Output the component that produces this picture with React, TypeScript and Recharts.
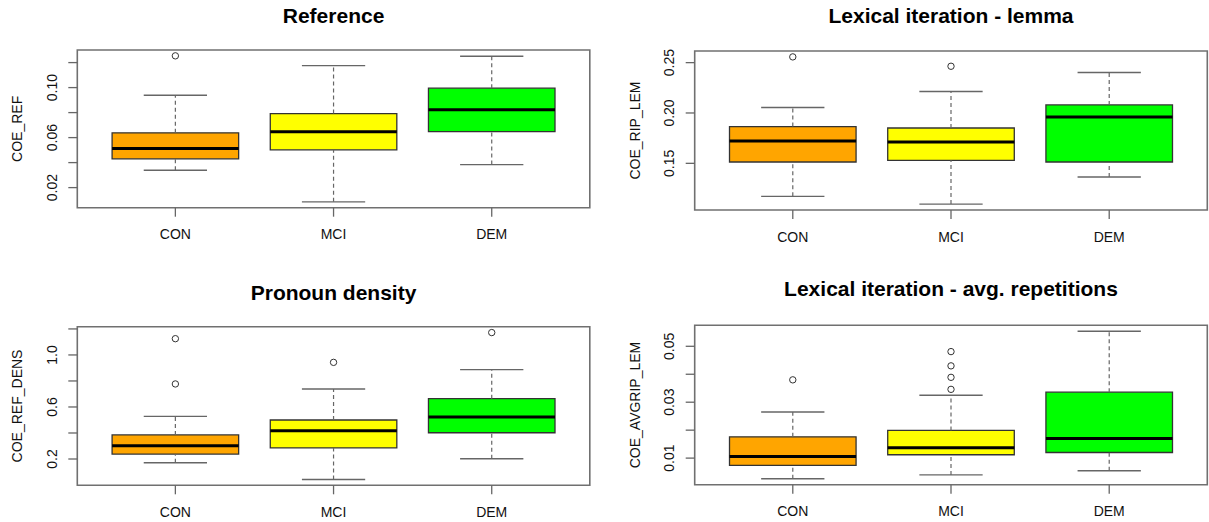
import React from 'react';
import { ComposedChart, XAxis, YAxis, ReferenceArea, ReferenceLine, Scatter, Label } from 'recharts';

const categories = ['CON', 'MCI', 'DEM'];
const boxColors = ['#FFA500', '#FFFF00', '#00FF00'];

// Panel 1: Reference (COE_REF)
const refLow = [0.0339, 0.0086, 0.0384];
const refQ1 = [0.043, 0.0502, 0.0648];
const refMed = [0.0512, 0.0646, 0.0822];
const refQ3 = [0.0638, 0.0792, 0.0995];
const refHigh = [0.0939, 0.1176, 0.1251];
const refOut = [[0.1254], [], []];
const refTicks = [0.02, 0.04, 0.06, 0.08, 0.1, 0.12];
const refTickLabels = [0.02, 0.06, 0.1];

// Panel 2: Lexical iteration - lemma (COE_RIP_LEM)
const lemLow = [0.1172, 0.1095, 0.1364];
const lemQ1 = [0.1513, 0.153, 0.1513];
const lemMed = [0.1722, 0.1712, 0.196];
const lemQ3 = [0.1865, 0.1851, 0.208];
const lemHigh = [0.2054, 0.2213, 0.2402];
const lemOut = [[0.2557], [0.2464], []];
const lemTicks = [0.15, 0.2, 0.25];
const lemTickLabels = [0.15, 0.2, 0.25];

// Panel 3: Pronoun density (COE_REF_DENS)
const densLow = [0.171, 0.043, 0.202];
const densQ1 = [0.238, 0.285, 0.402];
const densMed = [0.302, 0.418, 0.523];
const densQ3 = [0.385, 0.5, 0.664];
const densHigh = [0.528, 0.738, 0.887];
const densOut = [[1.125, 0.777], [0.943], [1.172]];
const densTicks = [0.2, 0.4, 0.6, 0.8, 1.0, 1.2];
const densTickLabels = [0.2, 0.6, 1.0];

// Panel 4: Lexical iteration - avg. repetitions (COE_AVGRIP_LEM)
const avgLow = [0.0026, 0.004, 0.0055];
const avgQ1 = [0.0074, 0.0112, 0.012];
const avgMed = [0.0106, 0.0137, 0.017];
const avgQ3 = [0.0176, 0.0199, 0.0336];
const avgHigh = [0.0265, 0.0325, 0.0554];
const avgOut = [[0.038], [0.0481, 0.043, 0.0389, 0.0346], []];
const avgTicks = [0.01, 0.02, 0.03, 0.04, 0.05];
const avgTickLabels = [0.01, 0.03, 0.05];

const FONT = '"Liberation Sans", Arial, sans-serif';
const X_DOMAIN: [number, number] = [0.38, 3.62];

type PanelDef = {
  title: string;
  yLabel: string;
  low: number[]; q1: number[]; med: number[]; q3: number[]; high: number[];
  out: number[][];
  ticks: number[]; tickLabels: number[]; decimals: number;
  left: number; top: number; width: number; height: number;
  frame: { l: number; r: number; t: number; b: number };
  titleBaseline: number;
};

const Y_AXIS_W = 70;
const X_AXIS_H = 30;

function yDomain(p: { low: number[]; high: number[]; out: number[][] }): [number, number] {
  const all = [...p.low, ...p.high, ...p.out.flat()];
  const mn = Math.min(...all);
  const mx = Math.max(...all);
  const ext = (mx - mn) * 0.04;
  return [mn - ext, mx + ext];
}

const panels: PanelDef[] = [
  {
    title: 'Reference', yLabel: 'COE_REF',
    low: refLow, q1: refQ1, med: refMed, q3: refQ3, high: refHigh, out: refOut,
    ticks: refTicks, tickLabels: refTickLabels, decimals: 2,
    left: 0, top: 0, width: 604, height: 261,
    frame: { l: 77.3, r: 589.8, t: 50, b: 207.7 }, titleBaseline: 22.8,
  },
  {
    title: 'Lexical iteration - lemma', yLabel: 'COE_RIP_LEM',
    low: lemLow, q1: lemQ1, med: lemMed, q3: lemQ3, high: lemHigh, out: lemOut,
    ticks: lemTicks, tickLabels: lemTickLabels, decimals: 2,
    left: 604, top: 0, width: 605, height: 261,
    frame: { l: 694.7, r: 1207.3, t: 51, b: 210 }, titleBaseline: 23.3,
  },
  {
    title: 'Pronoun density', yLabel: 'COE_REF_DENS',
    low: densLow, q1: densQ1, med: densMed, q3: densQ3, high: densHigh, out: densOut,
    ticks: densTicks, tickLabels: densTickLabels, decimals: 1,
    left: 0, top: 261, width: 604, height: 261,
    frame: { l: 77.3, r: 589.8, t: 326.7, b: 485.3 }, titleBaseline: 299.5,
  },
  {
    title: 'Lexical iteration - avg. repetitions', yLabel: 'COE_AVGRIP_LEM',
    low: avgLow, q1: avgQ1, med: avgMed, q3: avgQ3, high: avgHigh, out: avgOut,
    ticks: avgTicks, tickLabels: avgTickLabels, decimals: 2,
    left: 604, top: 261, width: 605, height: 261,
    frame: { l: 694.7, r: 1207.3, t: 325.3, b: 484.7 }, titleBaseline: 296.3,
  },
];

function Panel({ p }: { p: PanelDef }) {
  const fl = p.frame.l - p.left;
  const fr = p.frame.r - p.left;
  const ft = p.frame.t - p.top;
  const fb = p.frame.b - p.top;
  const margin = {
    top: ft,
    left: fl - Y_AXIS_W,
    right: p.width - fr,
    bottom: p.height - fb - X_AXIS_H,
  };
  const dom = yDomain(p);
  const outData = p.out.flatMap((vals, i) => vals.map((v) => ({ x: i + 1, y: v })));

  const yTick = (props: any) => {
    const { y, payload } = props;
    const v = payload.value;
    const show = p.tickLabels.some((t) => Math.abs(t - v) < 1e-9);
    if (!show) return <g />;
    const tx = fl - 25.6;
    return (
      <text x={tx} y={y} transform={`rotate(-90, ${tx}, ${y})`} textAnchor="middle"
        dominantBaseline="central" fontSize={14} fontFamily={FONT} fill="#111">
        {v.toFixed(p.decimals)}
      </text>
    );
  };

  const xTick = (props: any) => {
    const { x, payload } = props;
    return (
      <text x={x} y={fb + 26.5} textAnchor="middle" dominantBaseline="central"
        fontSize={14} fontFamily={FONT} fill="#111">
        {categories[payload.value - 1]}
      </text>
    );
  };

  const yLabelContent = () => {
    const tx = fl - 60;
    const ty = (ft + fb) / 2;
    return (
      <text x={tx} y={ty} transform={`rotate(-90, ${tx}, ${ty})`} textAnchor="middle"
        dominantBaseline="central" fontSize={14} fontFamily={FONT} fill="#111">
        {p.yLabel}
      </text>
    );
  };

  return (
    <div style={{ position: 'absolute', left: p.left, top: p.top, width: p.width, height: p.height }}>
      <svg style={{ position: 'absolute', left: 0, top: 0, pointerEvents: 'none' }} width={p.width} height={60}>
        <text x={(fl + fr) / 2} y={p.titleBaseline - p.top} textAnchor="middle" fontSize={21}
          fontWeight="bold" fontFamily={FONT} fill="#000">
          {p.title}
        </text>
      </svg>
      <ComposedChart width={p.width} height={p.height} margin={margin} data={outData}>
        <XAxis type="number" dataKey="x" domain={X_DOMAIN} ticks={[1, 2, 3]} allowDataOverflow
          height={X_AXIS_H} axisLine={false} tickSize={9} tickLine={{ stroke: '#666', strokeWidth: 1.3 }}
          tick={xTick} interval={0} />
        <YAxis type="number" dataKey="y" domain={dom} ticks={p.ticks} allowDataOverflow
          width={Y_AXIS_W} axisLine={false} tickSize={9} tickLine={{ stroke: '#666', strokeWidth: 1.3 }}
          tick={yTick} interval={0}>
          <Label content={yLabelContent} />
        </YAxis>
        {categories.map((c, i) => (
          <ReferenceArea key={`box-${c}`} x1={i + 1 - 0.4} x2={i + 1 + 0.4} y1={p.q1[i]} y2={p.q3[i]}
            fill={boxColors[i]} fillOpacity={1} stroke="#333" strokeWidth={1.3} ifOverflow="visible" />
        ))}
        {categories.map((c, i) => (
          <ReferenceLine key={`wu-${c}`} segment={[{ x: i + 1, y: p.q3[i] }, { x: i + 1, y: p.high[i] }]}
            stroke="#666" strokeWidth={1.2} strokeDasharray="4 3" ifOverflow="visible" />
        ))}
        {categories.map((c, i) => (
          <ReferenceLine key={`wl-${c}`} segment={[{ x: i + 1, y: p.low[i] }, { x: i + 1, y: p.q1[i] }]}
            stroke="#666" strokeWidth={1.2} strokeDasharray="4 3" ifOverflow="visible" />
        ))}
        {categories.map((c, i) => (
          <ReferenceLine key={`cu-${c}`} segment={[{ x: i + 1 - 0.2, y: p.high[i] }, { x: i + 1 + 0.2, y: p.high[i] }]}
            stroke="#666" strokeWidth={1.4} ifOverflow="visible" />
        ))}
        {categories.map((c, i) => (
          <ReferenceLine key={`cl-${c}`} segment={[{ x: i + 1 - 0.2, y: p.low[i] }, { x: i + 1 + 0.2, y: p.low[i] }]}
            stroke="#666" strokeWidth={1.4} ifOverflow="visible" />
        ))}
        {categories.map((c, i) => (
          <ReferenceLine key={`med-${c}`} segment={[{ x: i + 1 - 0.4, y: p.med[i] }, { x: i + 1 + 0.4, y: p.med[i] }]}
            stroke="#000" strokeWidth={3} ifOverflow="visible" />
        ))}
        <ReferenceArea x1={X_DOMAIN[0]} x2={X_DOMAIN[1]} y1={dom[0]} y2={dom[1]} fill="none"
          stroke="#707070" strokeWidth={1.6} ifOverflow="visible" />
        <Scatter data={outData} isAnimationActive={false}
          shape={(sp: any) => <circle cx={sp.cx} cy={sp.cy} r={3.2} fill="none" stroke="#333" strokeWidth={1} />} />
      </ComposedChart>
    </div>
  );
}

export default function App() {
  return (
    <div style={{ position: 'absolute', left: 0, top: 0, width: 1209, height: 522, background: '#fff', overflow: 'hidden' }}>
      {panels.map((p) => (
        <Panel key={p.title} p={p} />
      ))}
    </div>
  );
}
